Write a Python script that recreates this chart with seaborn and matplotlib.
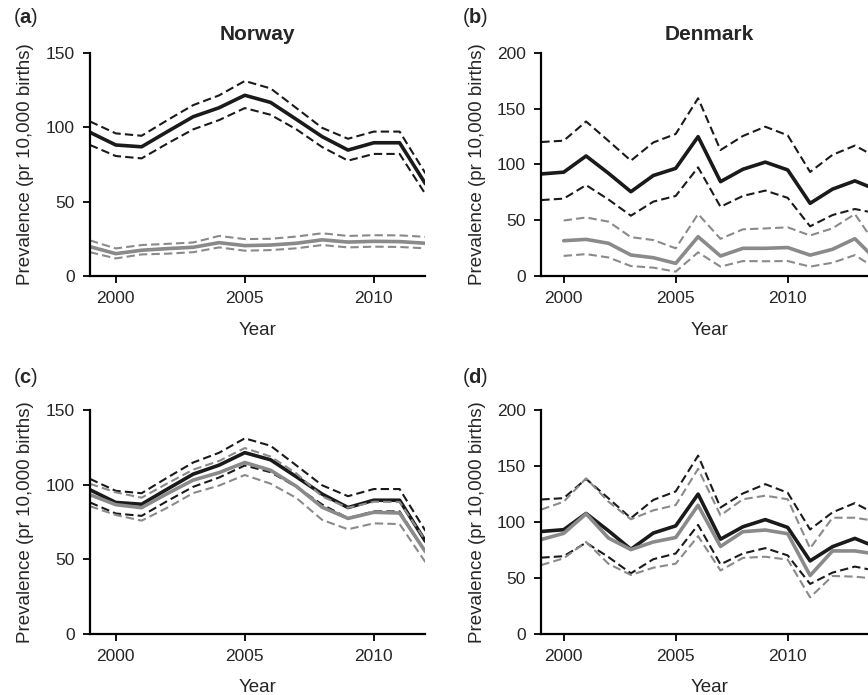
import numpy as np
import pandas as pd
import matplotlib
matplotlib.use("Agg")
import matplotlib.pyplot as plt
import seaborn as sns

# --- datos ---
years_no = list(range(1999, 2013))
years_dk = list(range(1999, 2015))
years_dk_b = list(range(2000, 2015))

# Noruega, total (negro)
no_all = [96.5, 88.0, 86.8, 97.0, 107.0, 113.0, 121.4, 116.6, 105.2, 93.6, 84.6, 89.5, 89.5, 62.0]
no_all_hi = [103.8, 95.8, 94.2, 104.7, 114.8, 121.3, 131.0, 126.0, 112.8, 99.5, 92.2, 97.0, 97.0, 69.0]
no_all_lo = [88.0, 80.6, 79.0, 89.0, 98.5, 104.7, 112.8, 108.3, 98.5, 86.6, 77.5, 82.0, 82.0, 55.0]

# Noruega, panel a (gris)
no_a = [19.7, 15.0, 17.3, 18.4, 19.3, 22.4, 20.4, 20.8, 22.0, 24.3, 22.8, 23.3, 23.1, 22.0]
no_a_hi = [23.9, 18.5, 20.8, 21.6, 22.5, 26.9, 24.8, 25.0, 26.5, 28.7, 26.9, 27.4, 27.3, 26.3]
no_a_lo = [16.0, 11.8, 14.5, 15.0, 16.0, 19.2, 17.0, 17.4, 18.6, 20.8, 19.2, 19.7, 19.5, 18.6]

# Noruega, panel c (gris)
no_c = [93.2, 86.5, 84.5, 94.0, 103.0, 108.0, 114.8, 109.6, 98.8, 84.8, 77.3, 81.4, 80.9, 55.0]
no_c_hi = [100.5, 94.8, 91.2, 100.8, 110.0, 115.8, 124.5, 118.8, 107.5, 92.0, 84.4, 88.5, 88.3, 62.5]
no_c_lo = [85.5, 79.6, 75.8, 84.5, 94.3, 99.3, 106.4, 100.6, 91.0, 76.3, 70.0, 74.0, 73.5, 48.0]

# Dinamarca, total (negro)
dk_all = [91.4, 93.0, 107.5, 92.0, 75.5, 90.0, 96.4, 124.8, 84.5, 95.6, 102.0, 95.0, 65.1, 77.8, 85.2, 77.0]
dk_all_hi = [120.0, 121.2, 138.4, 121.0, 103.3, 119.6, 127.2, 159.2, 112.8, 125.4, 133.7, 126.0, 93.2, 108.5, 116.8, 106.0]
dk_all_lo = [68.0, 69.3, 81.4, 68.5, 54.0, 66.6, 71.7, 97.3, 62.0, 71.7, 76.5, 70.0, 44.5, 54.6, 60.0, 56.0]

# Dinamarca, panel b (gris, desde 2000)
dk_b = [31.6, 32.8, 29.3, 18.8, 16.4, 11.3, 35.2, 17.9, 24.8, 24.8, 25.5, 18.7, 23.9, 33.4, 13.5]
dk_b_hi = [49.7, 52.4, 48.7, 34.8, 32.2, 24.8, 55.5, 33.3, 41.8, 42.6, 43.6, 36.3, 42.7, 55.5, 26.0]
dk_b_lo = [18.0, 19.6, 16.6, 8.9, 7.5, 3.9, 21.2, 8.4, 13.4, 13.2, 13.4, 8.4, 11.9, 18.7, 6.0]

# Dinamarca, panel d (gris)
dk_d = [84.2, 89.7, 107.2, 85.5, 75.2, 82.0, 86.0, 114.8, 78.0, 91.2, 92.7, 89.4, 52.0, 74.0, 74.0, 71.0]
dk_d_hi = [111.0, 118.0, 138.9, 118.0, 102.3, 110.3, 115.0, 147.4, 105.8, 120.2, 123.4, 120.2, 76.3, 103.7, 103.7, 100.5]
dk_d_lo = [61.4, 67.4, 82.0, 62.5, 52.5, 59.0, 62.6, 87.2, 56.5, 67.8, 68.8, 66.2, 32.5, 51.6, 51.0, 49.0]

# --- estilo ---
sns.set_style("ticks")
plt.rcParams['font.family'] = ['Liberation Sans', 'DejaVu Sans']
plt.rcParams['mathtext.fontset'] = 'custom'
plt.rcParams['mathtext.rm'] = 'Liberation Sans'
plt.rcParams['mathtext.bf'] = 'Liberation Sans:bold'

NEGRO = "#1a1a1a"
GRIS = "#8a8a8a"
DASH = (0, (4, 2))


def dibujar(ax, years, media, alto, bajo, color):
    sns.lineplot(x=years, y=media, ax=ax, color=color, lw=2.6)
    sns.lineplot(x=years, y=alto, ax=ax, color=color, lw=1.5, linestyle=DASH)
    sns.lineplot(x=years, y=bajo, ax=ax, color=color, lw=1.5, linestyle=DASH)


def formato(ax, xlim, ymax, yticks):
    ax.set_xlim(*xlim)
    ax.set_ylim(0, ymax)
    ax.set_xticks([2000, 2005, 2010])
    ax.set_yticks(yticks)
    ax.set_xlabel("Year", fontsize=13.5, labelpad=11)
    ax.set_ylabel("Prevalence (pr 10,000 births)", fontsize=13.5, labelpad=8)
    ax.tick_params(labelsize=12.5, length=5, width=1.3, pad=6, color="black")
    for s in ["left", "bottom"]:
        ax.spines[s].set_linewidth(1.6)
        ax.spines[s].set_color("black")
    sns.despine(ax=ax)


fig = plt.figure(figsize=(8.68, 6.95), dpi=100)
W, H = 868, 695

def ejes(x0, x1, ytop, ybot):
    return fig.add_axes([x0 / W, (H - ybot) / H, (x1 - x0) / W, (ybot - ytop) / H])

ax_a = ejes(90, 425.4, 52.7, 276)
ax_b = ejes(541.3, 877.3, 52.7, 276)
ax_c = ejes(90, 425.4, 410, 633.7)
ax_d = ejes(541.3, 877.3, 410, 633.7)

# (a) Norway
dibujar(ax_a, years_no, no_all, no_all_hi, no_all_lo, NEGRO)
dibujar(ax_a, years_no, no_a, no_a_hi, no_a_lo, GRIS)
formato(ax_a, (1999, 2012), 150, [0, 50, 100, 150])
ax_a.set_title("Norway", fontsize=15, fontweight="bold", pad=9)

# (b) Denmark
dibujar(ax_b, years_dk, dk_all, dk_all_hi, dk_all_lo, NEGRO)
dibujar(ax_b, years_dk_b, dk_b, dk_b_hi, dk_b_lo, GRIS)
formato(ax_b, (1999, 2014), 200, [0, 50, 100, 150, 200])
ax_b.set_title("Denmark", fontsize=15, fontweight="bold", pad=9)

# (c)
dibujar(ax_c, years_no, no_all, no_all_hi, no_all_lo, NEGRO)
dibujar(ax_c, years_no, no_c, no_c_hi, no_c_lo, GRIS)
formato(ax_c, (1999, 2012), 150, [0, 50, 100, 150])

# (d)
dibujar(ax_d, years_dk, dk_all, dk_all_hi, dk_all_lo, NEGRO)
dibujar(ax_d, years_dk, dk_d, dk_d_hi, dk_d_lo, GRIS)
formato(ax_d, (1999, 2014), 200, [0, 50, 100, 150, 200])

# etiquetas de panel
for etiqueta, x, y in [("a", 13, 23), ("b", 462, 23), ("c", 13, 383), ("d", 462, 383)]:
    fig.text(x / W, 1 - y / H, "(" + r"$\mathbf{" + etiqueta + "}$" + ")",
             fontsize=14.5, va="baseline")

fig.savefig("out.png", dpi=100)
